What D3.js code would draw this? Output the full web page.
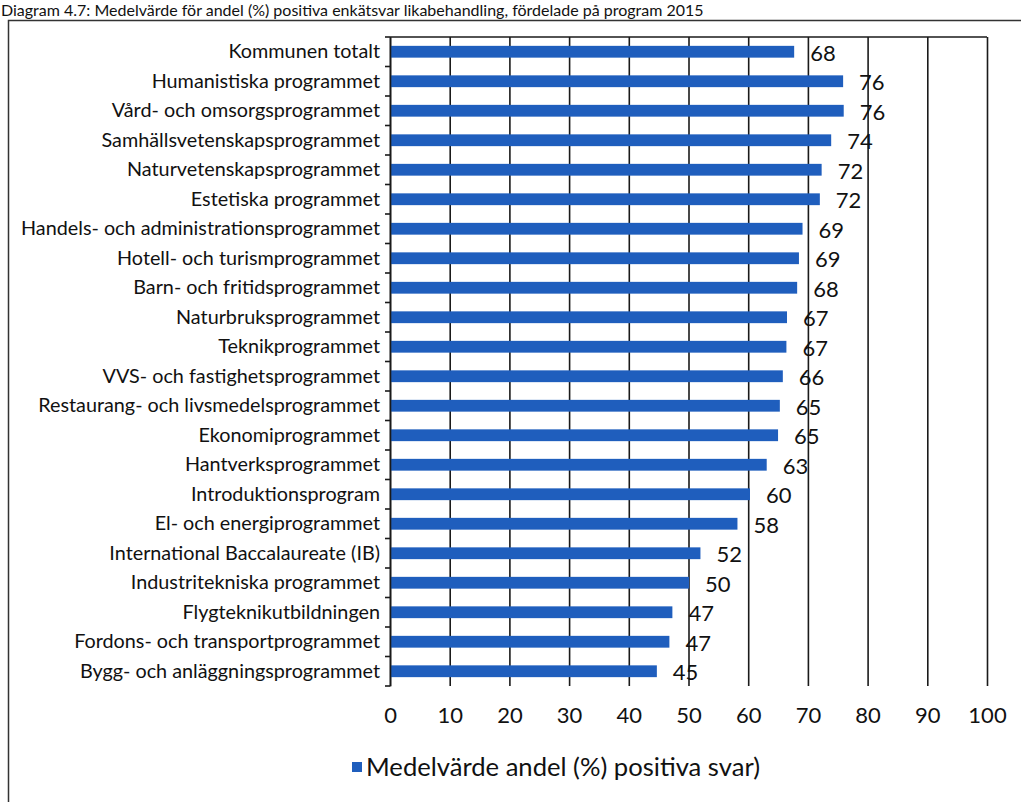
<!DOCTYPE html>
<html>
<head>
<meta charset="utf-8">
<script src="https://cdn.jsdelivr.net/npm/d3@7"></script>
<style>
  html, body { margin: 0; padding: 0; background: #fff; }
  svg { display: block; }
  text { font-family: Lato, "Open Sans", sans-serif; fill: #111; }
</style>
</head>
<body>
<svg id="chart" width="1021" height="802"></svg>
<script>
const categories = [
  "Kommunen totalt",
  "Humanistiska programmet",
  "Vård- och omsorgsprogrammet",
  "Samhällsvetenskapsprogrammet",
  "Naturvetenskapsprogrammet",
  "Estetiska programmet",
  "Handels- och administrationsprogrammet",
  "Hotell- och turismprogrammet",
  "Barn- och fritidsprogrammet",
  "Naturbruksprogrammet",
  "Teknikprogrammet",
  "VVS- och fastighetsprogrammet",
  "Restaurang- och livsmedelsprogrammet",
  "Ekonomiprogrammet",
  "Hantverksprogrammet",
  "Introduktionsprogram",
  "El- och energiprogrammet",
  "International Baccalaureate (IB)",
  "Industritekniska programmet",
  "Flygteknikutbildningen",
  "Fordons- och transportprogrammet",
  "Bygg- och anläggningsprogrammet"
];
// bar lengths (estimated) and the printed labels
const values = [67.7, 75.9, 76.0, 73.9, 72.3, 72.0, 69.1, 68.5, 68.2, 66.5, 66.4, 65.8, 65.3, 65.0, 63.1, 60.3, 58.2, 52.0, 50.1, 47.3, 46.8, 44.7];
const valueLabels = [68, 76, 76, 74, 72, 72, 69, 69, 68, 67, 67, 66, 65, 65, 63, 60, 58, 52, 50, 47, 47, 45];
const xTicks = [0, 10, 20, 30, 40, 50, 60, 70, 80, 90, 100];
const title = "Diagram 4.7: Medelvärde för andel (%) positiva enkätsvar likabehandling, fördelade på program 2015";
const seriesName = "Medelvärde andel (%) positiva svar)";

const svg = d3.select("#chart");
const W = 1021, H = 802;
const plot = { left: 390, right: 987, top: 37, bottom: 686 };
const barColor = "#1f5ebd";
const lineColor = "#1a1a1a";

// title
svg.append("text").attr("x", 1).attr("y", 16)
  .style("font-size", "16px").text(title);

// outer frame
svg.append("rect").attr("x", 8.5).attr("y", 20.5)
  .attr("width", W + 50).attr("height", H + 50)
  .attr("fill", "none").attr("stroke", "#333").attr("stroke-width", 1.5);

const x = d3.scaleLinear().domain([0, 100]).range([plot.left, plot.right]);
const y = d3.scaleBand().domain(categories).range([plot.top, plot.bottom])
  .paddingInner(0.6).paddingOuter(0.3);

// vertical gridlines via bottom axis
const xAxis = d3.axisBottom(x).tickValues(xTicks).tickFormat(d3.format("d"))
  .tickSizeInner(-(plot.bottom - plot.top)).tickSizeOuter(0).tickPadding(21);
const gx = svg.append("g").attr("transform", `translate(0,${plot.bottom})`).call(xAxis);
gx.select(".domain").remove();
gx.selectAll(".tick line").attr("stroke", lineColor).attr("stroke-width", 1.6);
gx.selectAll(".tick text").style("font-size", "22px").attr("fill", "#111");

// top line
svg.append("line").attr("x1", x(0)).attr("x2", x(100))
  .attr("y1", plot.top).attr("y2", plot.top)
  .attr("stroke", lineColor).attr("stroke-width", 1.6);

// bars
svg.append("g").selectAll("rect").data(categories).join("rect")
  .attr("x", x(0))
  .attr("y", d => y(d))
  .attr("width", (d, i) => x(values[i]) - x(0))
  .attr("height", y.bandwidth())
  .attr("fill", barColor);

// category axis
const yAxis = d3.axisLeft(y).tickSize(0).tickPadding(10);
const gy = svg.append("g").attr("transform", `translate(${plot.left},0)`).call(yAxis);
gy.select(".domain").attr("stroke", lineColor).attr("stroke-width", 1.6);
gy.selectAll(".tick text").style("font-size", "19.8px").attr("fill", "#111");

// category boundary ticks
const step = y.step();
const bounds = d3.range(categories.length + 1).map(i => plot.top + i * step);
svg.append("g").selectAll("line").data(bounds).join("line")
  .attr("x1", plot.left - 5).attr("x2", plot.left)
  .attr("y1", d => d).attr("y2", d => d)
  .attr("stroke", lineColor).attr("stroke-width", 1.6);

// value labels
svg.append("g").selectAll("text").data(categories).join("text")
  .attr("x", (d, i) => x(values[i]) + 16)
  .attr("y", d => y(d) + y.bandwidth() / 2 + 1)
  .attr("dy", "0.36em")
  .style("font-size", "22px")
  .text((d, i) => valueLabels[i]);

// legend
const lg = svg.append("g").attr("transform", "translate(352,767)");
lg.append("rect").attr("x", 0).attr("y", -5).attr("width", 10).attr("height", 10).attr("fill", barColor);
lg.append("text").attr("x", 14).attr("y", 0).attr("dy", "0.36em")
  .style("font-size", "25.6px").text(seriesName);
</script>
</body>
</html>
